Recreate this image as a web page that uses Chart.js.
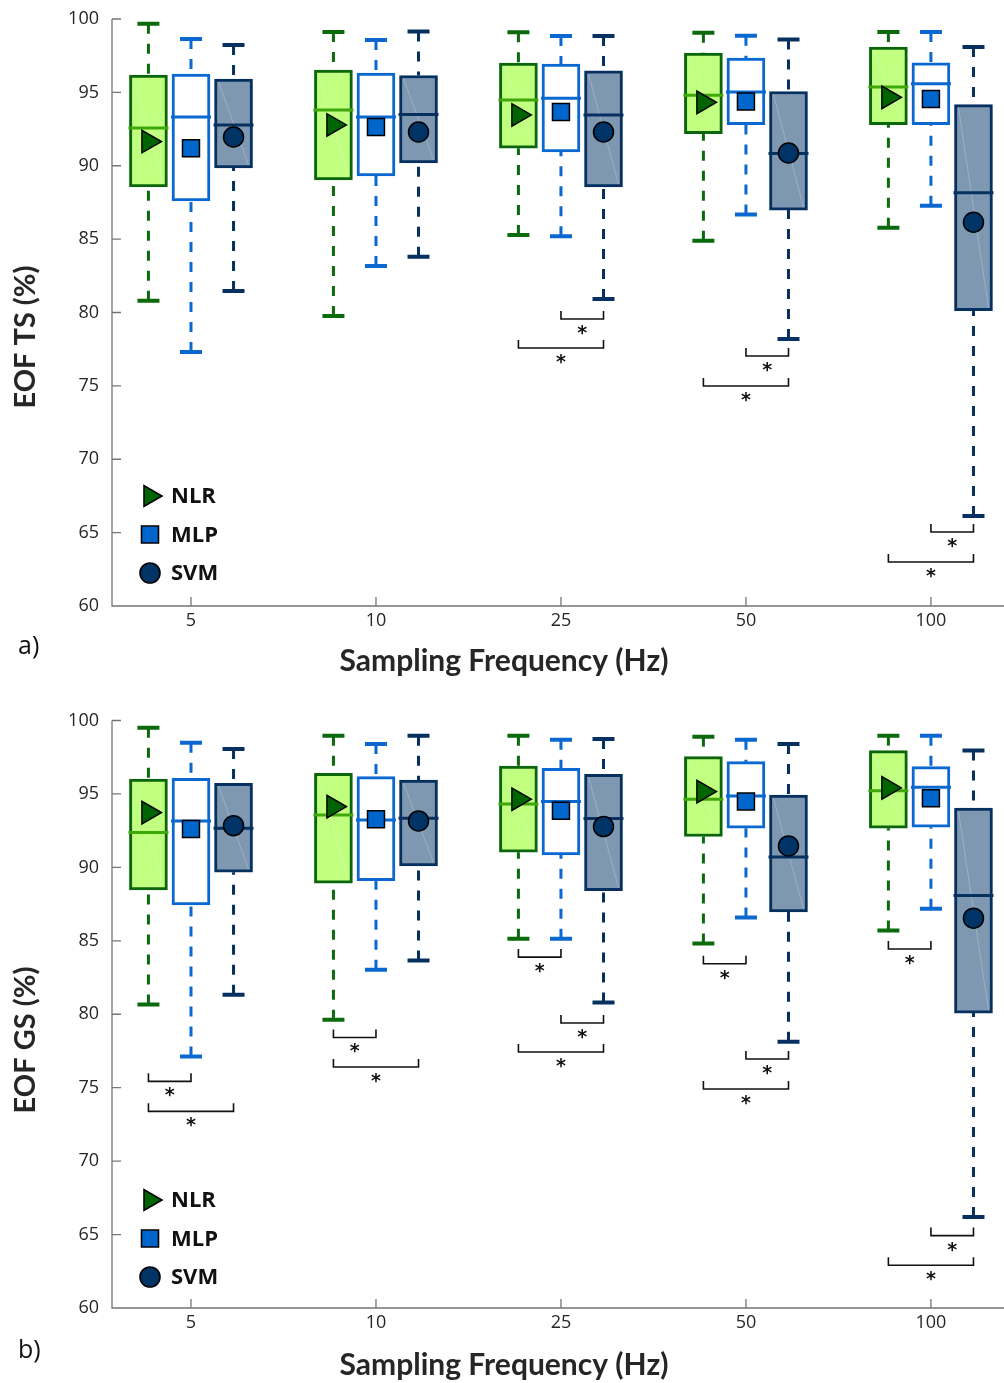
<!DOCTYPE html>
<html><head><meta charset="utf-8">
<script src="https://cdn.jsdelivr.net/npm/chart.js@4.4.0/dist/chart.umd.min.js"></script>
<style>
html,body{margin:0;padding:0;background:#fff;}
#wrap{position:relative;width:1004px;height:1383px;overflow:hidden;}
.pane{position:absolute;left:0;width:1004px;}
</style></head><body>
<div id="wrap">
<div class="pane" style="top:0;height:700px"><canvas id="c1" width="1004" height="700"></canvas></div>
<div class="pane" style="top:700px;height:683px"><canvas id="c2" width="1004" height="683"></canvas></div>
</div>
<script>
// ---------- categories / labels ----------
const groups = ['5', '10', '25', '50', '100'];
const seriesNames = ['NLR', 'MLP', 'SVM'];
const yTicks = [60, 65, 70, 75, 80, 85, 90, 95, 100];

// ---------- panel a) EOF TS (%) ----------
const tsNlrMin  = [80.8, 79.76, 85.28, 84.89, 85.78];
const tsNlrQ1   = [88.55, 89.03, 91.2, 92.18, 92.8];
const tsNlrMed  = [92.57, 93.8, 94.48, 94.8, 95.37];
const tsNlrQ3   = [96.18, 96.52, 97.0, 97.68, 98.09];
const tsNlrMax  = [99.68, 99.11, 99.1, 99.07, 99.11];
const tsNlrMean = [91.65, 92.78, 93.46, 94.32, 94.66];

const tsMlpMin  = [77.3, 83.17, 85.2, 86.67, 87.27];
const tsMlpQ1   = [87.6, 89.3, 90.94, 92.8, 92.8];
const tsMlpMed  = [93.32, 93.32, 94.6, 95.03, 95.58];
const tsMlpQ3   = [96.25, 96.32, 96.93, 97.34, 97.02];
const tsMlpMax  = [98.64, 98.57, 98.84, 98.86, 99.11];
const tsMlpMean = [91.2, 92.64, 93.66, 94.38, 94.55];

const tsSvmMin  = [81.47, 83.8, 80.92, 78.2, 66.13];
const tsSvmQ1   = [89.85, 90.2, 88.55, 86.98, 80.12];
const tsSvmMed  = [92.78, 93.5, 93.46, 90.83, 88.16];
const tsSvmQ3   = [95.9, 96.15, 96.46, 95.06, 94.17];
const tsSvmMax  = [98.23, 99.15, 98.84, 98.6, 98.09];
const tsSvmMean = [91.96, 92.3, 92.3, 90.87, 86.15];

// significance brackets: [group index, series a, series b, bracket level]
const tsSig = [
  [2, 1, 2, 79.56], [2, 0, 2, 77.58],
  [3, 1, 2, 77.04], [3, 0, 2, 74.99],
  [4, 1, 2, 65.04], [4, 0, 2, 63.0]
];

// ---------- panel b) EOF GS (%) ----------
const gsNlrMin  = [80.67, 79.63, 85.14, 84.82, 85.7];
const gsNlrQ1   = [88.47, 88.93, 91.03, 92.1, 92.67];
const gsNlrMed  = [92.37, 93.57, 94.32, 94.64, 95.22];
const gsNlrQ3   = [96.02, 96.41, 96.9, 97.54, 97.95];
const gsNlrMax  = [99.51, 98.97, 98.97, 98.9, 98.97];
const gsNlrMean = [93.73, 94.14, 94.64, 95.16, 95.41];

const gsMlpMin  = [77.13, 83.03, 85.14, 86.58, 87.18];
const gsMlpQ1   = [87.45, 89.1, 90.85, 92.67, 92.73];
const gsMlpMed  = [93.16, 93.23, 94.48, 94.86, 95.46];
const gsMlpQ3   = [96.07, 96.18, 96.75, 97.2, 96.86];
const gsMlpMax  = [98.49, 98.4, 98.69, 98.69, 98.97];
const gsMlpMean = [92.62, 93.28, 93.86, 94.48, 94.71];

const gsSvmMin  = [81.33, 83.66, 80.8, 78.13, 66.2];
const gsSvmQ1   = [89.67, 90.1, 88.42, 86.97, 80.08];
const gsSvmMed  = [92.67, 93.35, 93.32, 90.7, 88.08];
const gsSvmQ3   = [95.73, 95.95, 96.34, 94.93, 94.03];
const gsSvmMax  = [98.06, 98.97, 98.74, 98.4, 97.95];
const gsSvmMean = [92.84, 93.16, 92.78, 91.46, 86.54];

const gsSig = [
  [0, 0, 1, 75.43], [0, 0, 2, 73.39],
  [1, 0, 1, 78.42], [1, 0, 2, 76.41],
  [2, 0, 1, 83.89], [2, 1, 2, 79.4], [2, 0, 2, 77.43],
  [3, 0, 1, 83.44], [3, 1, 2, 76.95], [3, 0, 2, 74.91],
  [4, 0, 1, 84.44], [4, 1, 2, 64.93], [4, 0, 2, 62.91]
];

// ---------- styles ----------
const seriesOffset = [-0.23, 0, 0.23];
const styles = [
  { edge: '#0b650b', fill: '#c0ff80', median: '#3ea80a', whisker: '#0b6a0b', marker: '#006400', point: 'triangle', radius: 13, rotation: 90, diag: true },
  { edge: '#0a68d0', fill: '#ffffff', median: '#0a68d0', whisker: '#0a68d0', marker: '#0066cc', point: 'rect', radius: 12, rotation: 0, diag: false },
  { edge: '#06305f', fill: '#7f98b2', median: '#06305f', whisker: '#06305f', marker: '#003366', point: 'circle', radius: 10, rotation: 0, diag: true }
];
const AXIS_COLOR = '#767676';
const TEXT_COLOR = '#262626';

function noPadding(sc) {
  sc._calculatePadding = function () {
    this.paddingLeft = 0; this.paddingRight = 0; this.paddingTop = 0; this.paddingBottom = 0;
  };
}

function makeChart(canvasId, stats, sig, yTitle, panelLabel, xTitleY, yTitleCY, padTop, xScaleHeight, legendTop) {
  const datasets = [];
  stats.forEach((st, s) => {
    datasets.push({
      type: 'bar',
      label: seriesNames[s],
      data: groups.map((g, i) => ({ x: i + seriesOffset[s], y: [st.q1[i], st.q3[i]] })),
      backgroundColor: styles[s].fill,
      borderColor: styles[s].edge,
      borderWidth: 3,
      borderSkipped: false,
      barThickness: 38,
      grouped: false,
      order: 2
    });
  });
  stats.forEach((st, s) => {
    datasets.push({
      type: 'scatter',
      label: seriesNames[s] + ' mean',
      data: groups.map((g, i) => ({ x: i + seriesOffset[s], y: st.mean[i] })),
      pointStyle: styles[s].point,
      pointRadius: styles[s].radius,
      pointRotation: styles[s].rotation,
      pointBackgroundColor: styles[s].marker,
      pointBorderColor: '#000000',
      pointBorderWidth: 1.5,
      showLine: false,
      order: 1
    });
  });

  const plugin = {
    id: 'boxExtras',
    afterDatasetDraw(chart, args) {
      const s = args.index;
      if (s > 2) return;
      const st = stats[s], sty = styles[s];
      const xs = chart.scales.x, ys = chart.scales.y, ctx = chart.ctx;
      ctx.save();
      for (let i = 0; i < groups.length; i++) {
        const cx = xs.getPixelForValue(i + seriesOffset[s]);
        const pMin = ys.getPixelForValue(st.min[i]);
        const pQ1 = ys.getPixelForValue(st.q1[i]);
        const pMed = ys.getPixelForValue(st.med[i]);
        const pQ3 = ys.getPixelForValue(st.q3[i]);
        const pMax = ys.getPixelForValue(st.max[i]);
        if (sty.diag) {
          ctx.strokeStyle = 'rgba(255,255,255,0.22)';
          ctx.lineWidth = 1;
          ctx.beginPath();
          ctx.moveTo(cx - 15, pQ3 + 3);
          ctx.lineTo(cx + 15, pQ1 - 3);
          ctx.stroke();
        }
        ctx.strokeStyle = sty.whisker;
        ctx.lineWidth = 3;
        ctx.setLineDash([10, 10]);
        ctx.beginPath(); ctx.moveTo(cx, pMax); ctx.lineTo(cx, pQ3); ctx.stroke();
        ctx.beginPath(); ctx.moveTo(cx, pMin); ctx.lineTo(cx, pQ1); ctx.stroke();
        ctx.setLineDash([]);
        ctx.lineWidth = 4;
        ctx.beginPath();
        ctx.moveTo(cx - 11, pMax); ctx.lineTo(cx + 11, pMax);
        ctx.moveTo(cx - 11, pMin); ctx.lineTo(cx + 11, pMin);
        ctx.stroke();
        ctx.strokeStyle = sty.median;
        ctx.lineWidth = 3;
        ctx.beginPath(); ctx.moveTo(cx - 20, pMed); ctx.lineTo(cx + 20, pMed); ctx.stroke();
      }
      ctx.restore();
    },
    afterDraw(chart) {
      const ctx = chart.ctx, xs = chart.scales.x, ys = chart.scales.y, a = chart.chartArea;
      ctx.save();
      // axes
      ctx.strokeStyle = AXIS_COLOR;
      ctx.lineWidth = 1.3;
      ctx.beginPath();
      ctx.moveTo(a.left, a.top); ctx.lineTo(a.left, a.bottom); ctx.lineTo(a.right, a.bottom);
      yTicks.forEach(v => { const y = ys.getPixelForValue(v); ctx.moveTo(a.left, y); ctx.lineTo(a.left + 9, y); });
      groups.forEach((g, i) => { const x = xs.getPixelForValue(i); ctx.moveTo(x, a.bottom); ctx.lineTo(x, a.bottom - 9); });
      ctx.stroke();
      // significance brackets
      ctx.strokeStyle = '#111';
      ctx.fillStyle = '#111';
      ctx.lineWidth = 1.6;
      ctx.font = 'bold 19px "DejaVu Sans"';
      ctx.textAlign = 'center';
      ctx.textBaseline = 'alphabetic';
      sig.forEach(([g, sa, sb, lvl]) => {
        const x1 = xs.getPixelForValue(g + seriesOffset[sa]);
        const x2 = xs.getPixelForValue(g + seriesOffset[sb]);
        const y = ys.getPixelForValue(lvl);
        ctx.beginPath();
        ctx.moveTo(x1, y - 8); ctx.lineTo(x1, y); ctx.lineTo(x2, y); ctx.lineTo(x2, y - 8);
        ctx.stroke();
        ctx.fillText('*', (x1 + x2) / 2, y + 20);
      });
      // legend
      seriesNames.forEach((n, s) => {
        const ly = legendTop + 38.5 * s;
        const lx = 150;
        ctx.fillStyle = styles[s].marker;
        ctx.strokeStyle = '#000';
        Chart.helpers.drawPoint(ctx, { pointStyle: styles[s].point, radius: styles[s].radius * (s === 0 ? 0.92 : 1), rotation: styles[s].rotation, borderWidth: 1.5 }, lx, ly);
        ctx.fillStyle = '#111';
        ctx.font = 'bold 22px "Open Sans"';
        ctx.textAlign = 'left';
        ctx.textBaseline = 'middle';
        ctx.fillText(n, 171, ly + 1);
      });
      // titles
      ctx.fillStyle = TEXT_COLOR;
      ctx.font = 'bold 30px Lato';
      ctx.textAlign = 'center';
      ctx.textBaseline = 'middle';
      ctx.fillText('Sampling Frequency (Hz)', 504, xTitleY);
      ctx.font = 'bold 29px Lato';
      ctx.save();
      ctx.translate(26, yTitleCY);
      ctx.rotate(-Math.PI / 2);
      ctx.fillText(yTitle, 0, 0);
      ctx.restore();
      ctx.font = '25px "Open Sans"';
      ctx.textAlign = 'left';
      ctx.fillStyle = '#111';
      ctx.fillText(panelLabel, 18, xTitleY - 14);
      ctx.restore();
    }
  };

  return new Chart(document.getElementById(canvasId), {
    type: 'bar',
    data: { datasets },
    plugins: [plugin],
    options: {
      responsive: false,
      animation: false,
      events: [],
      layout: { autoPadding: false, padding: { top: padTop, left: 0, right: 0, bottom: 0 } },
      plugins: { legend: { display: false }, tooltip: { enabled: false }, title: { display: false } },
      scales: {
        x: {
          type: 'linear',
          min: -0.427,
          max: 4.395,
          offset: false,
          grid: { display: false, drawTicks: false, offset: false },
          border: { display: false },
          afterBuildTicks: sc => { sc.ticks = groups.map((g, i) => ({ value: i })); noPadding(sc); },
          afterFit: sc => { sc.height = xScaleHeight; },
          ticks: {
            autoSkip: false,
            maxRotation: 0,
            padding: 4,
            color: TEXT_COLOR,
            font: { family: 'Open Sans', size: 18 },
            callback: (v) => groups[Math.round(v)]
          }
        },
        y: {
          min: 60,
          max: 100,
          grid: { display: false, drawTicks: false },
          border: { display: false },
          afterBuildTicks: sc => { sc.ticks = yTicks.map(v => ({ value: v })); noPadding(sc); },
          afterFit: sc => { sc.width = 112; },
          ticks: {
            padding: 13,
            color: TEXT_COLOR,
            font: { family: 'Open Sans', size: 18 }
          }
        }
      }
    }
  });
}

const tsStats = [
  { min: tsNlrMin, q1: tsNlrQ1, med: tsNlrMed, q3: tsNlrQ3, max: tsNlrMax, mean: tsNlrMean },
  { min: tsMlpMin, q1: tsMlpQ1, med: tsMlpMed, q3: tsMlpQ3, max: tsMlpMax, mean: tsMlpMean },
  { min: tsSvmMin, q1: tsSvmQ1, med: tsSvmMed, q3: tsSvmQ3, max: tsSvmMax, mean: tsSvmMean }
];
const gsStats = [
  { min: gsNlrMin, q1: gsNlrQ1, med: gsNlrMed, q3: gsNlrQ3, max: gsNlrMax, mean: gsNlrMean },
  { min: gsMlpMin, q1: gsMlpQ1, med: gsMlpMed, q3: gsMlpQ3, max: gsMlpMax, mean: gsMlpMean },
  { min: gsSvmMin, q1: gsSvmQ1, med: gsSvmMed, q3: gsSvmQ3, max: gsSvmMax, mean: gsSvmMean }
];

makeChart('c1', tsStats, tsSig, 'EOF TS (%)', 'a)', 661, 337, 19, 94, 496);
makeChart('c2', gsStats, gsSig, 'EOF GS (%)', 'b)', 665, 340, 20.5, 75, 500);
</script>
</body></html>
